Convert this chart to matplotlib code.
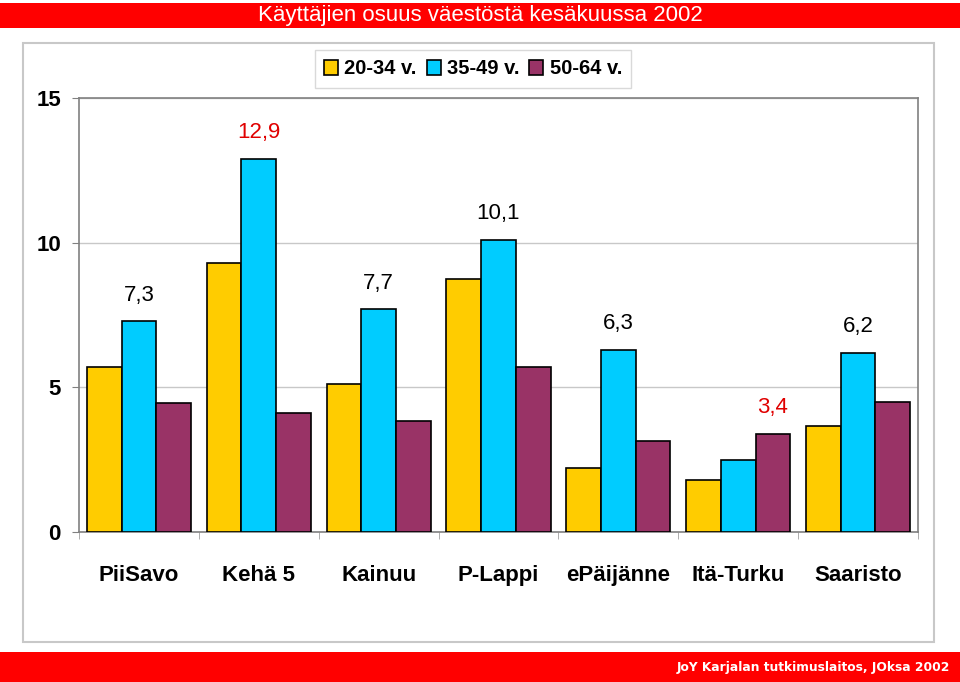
import matplotlib.pyplot as plt
import numpy as np
from matplotlib.patches import Rectangle

# Käyttäjien osuus väestöstä (%), kesäkuu 2002
areas = ["PiiSavo", "Kehä 5", "Kainuu", "P-Lappi", "ePäijänne", "Itä-Turku", "Saaristo"]
age_groups = ["20-34 v.", "35-49 v.", "50-64 v."]
v20_34 = [5.7, 9.3, 5.1, 8.75, 2.2, 1.8, 3.65]
v35_49 = [7.3, 12.9, 7.7, 10.1, 6.3, 2.5, 6.2]
v50_64 = [4.45, 4.1, 3.85, 5.7, 3.15, 3.4, 4.5]
colors = ["#FFCC00", "#00CCFF", "#993366"]

plt.rcParams["font.family"] = ["Liberation Sans", "DejaVu Sans"]

fig = plt.figure(figsize=(9.6, 6.82), dpi=100)
W, H = 960, 682

# red header and footer bands, outer frame
fig.patches.append(Rectangle((0, 1 - 28 / H), 1, 25 / H, transform=fig.transFigure,
                             facecolor="#FF0000", edgecolor="none", zorder=0))
fig.patches.append(Rectangle((0, 0), 1, 30 / H, transform=fig.transFigure,
                             facecolor="#FF0000", edgecolor="none", zorder=0))
fig.patches.append(Rectangle((23 / W, 1 - 642 / H), 911 / W, 599 / H, transform=fig.transFigure,
                             facecolor="none", edgecolor="#C8C8C8", linewidth=1.5, zorder=0))
fig.text(0.5, 1 - 16 / H, "Käyttäjien osuus väestöstä kesäkuussa 2002", color="white",
         fontsize=16, ha="center", va="center")
fig.text(950 / W, 15 / H, "JoY Karjalan tutkimuslaitos, JOksa 2002", color="white",
         fontsize=8.8, ha="right", va="center", family="DejaVu Sans", fontweight="bold")

ax = fig.add_axes([79 / W, 1 - 532 / H, 839 / W, 434 / H])
x = np.arange(len(areas))
w = 0.29
series = [v20_34, v35_49, v50_64]
for i, (vals, c, lab) in enumerate(zip(series, colors, age_groups)):
    ax.bar(x + (i - 1) * w, vals, w, color=c, edgecolor="black", linewidth=1.2,
           label=lab, zorder=3)

# value label above the highest bar in each group
data = np.array(series)
maxima = data.max(axis=0)
for j in range(len(areas)):
    k = int(data[:, j].argmax())
    val = maxima[j]
    col = "#E00000" if val in (maxima.max(), maxima.min()) else "black"
    ax.annotate(f"{val:.1f}".replace(".", ","), (x[j] + (k - 1) * w, val),
                xytext=(0, 11), textcoords="offset points", ha="center", va="bottom",
                fontsize=16, color=col)

ax.set_ylim(0, 15)
ax.set_xlim(-0.5, len(areas) - 0.5)
ax.set_yticks([0, 5, 10, 15])
ax.set_xticks(x)
ax.set_xticklabels(areas)
ax.set_xticks(np.arange(len(areas) + 1) - 0.5, minor=True)
ax.tick_params(axis="x", which="major", length=0, pad=24, labelsize=16)
ax.tick_params(axis="x", which="minor", length=5, color="#A0A0A0")
ax.tick_params(axis="y", length=5, color="#808080", pad=8, labelsize=16)
for lbl in ax.get_xticklabels() + ax.get_yticklabels():
    lbl.set_fontweight("bold")
ax.yaxis.grid(True, color="#C8C8C8", linewidth=1, zorder=0)
ax.set_axisbelow(True)
for s in ax.spines.values():
    s.set_color("#808080")
    s.set_linewidth(1.2)

leg = ax.legend(loc="center", bbox_to_anchor=(473 / W, 1 - 69 / H), bbox_transform=fig.transFigure,
                ncol=3, frameon=True, fancybox=False, edgecolor="#D0D0D0", fontsize=14.5,
                handlelength=0.7, handleheight=0.7, handletextpad=0.3, columnspacing=0.5,
                borderpad=0.45)
for t in leg.get_texts():
    t.set_fontweight("bold")

fig.savefig("out.png", dpi=100)
